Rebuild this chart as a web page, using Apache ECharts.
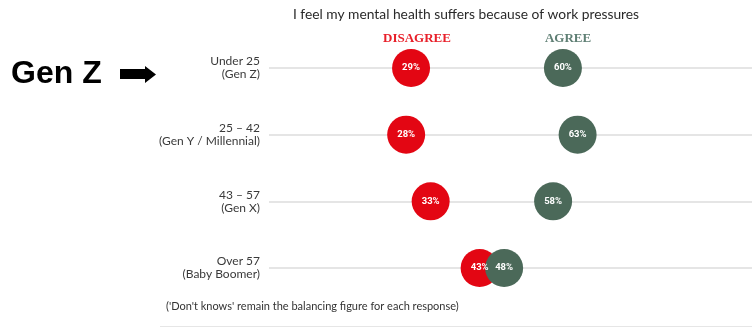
<!DOCTYPE html>
<html>
<head>
<meta charset="utf-8">
<script src="https://cdn.jsdelivr.net/npm/echarts@6/dist/echarts.min.js"></script>
<style>
  html, body { margin: 0; padding: 0; background: #fff; }
  #chart { width: 752px; height: 328px; }
</style>
</head>
<body>
<div id="chart"></div>
<script>
// Age groups, top to bottom
const ageGroups = [
  'Under 25\n(Gen Z)',
  '25 – 42\n(Gen Y / Millennial)',
  '43 – 57\n(Gen X)',
  'Over 57\n(Baby Boomer)'
];
// Share of respondents (%)
const disagree = [29, 28, 33, 43];
const agree = [60, 63, 58, 48];

const RED = '#e30613';
const GREEN = '#4b6959';

const chart = echarts.init(document.getElementById('chart'), null, { renderer: 'canvas' });

function bubbleSeries(name, values, color) {
  return {
    name: name,
    type: 'scatter',
    symbol: 'circle',
    symbolSize: 38,
    itemStyle: { color: color, opacity: 1 },
    label: {
      show: true,
      position: 'inside',
      formatter: p => p.value[0] + '%',
      color: '#fff',
      fontFamily: 'Roboto, sans-serif',
      fontSize: 9.5,
      fontWeight: 'bold'
    },
    emphasis: { disabled: true },
    data: values.map((v, i) => [v, i])
  };
}

chart.setOption({
  animation: false,
  grid: { left: 269, right: 0, top: 68, height: 200 },
  xAxis: {
    type: 'value',
    min: 0,
    max: 98.6,
    show: false
  },
  yAxis: {
    type: 'category',
    data: ageGroups,
    inverse: true,
    boundaryGap: false,
    axisLine: { show: false },
    axisTick: { show: false },
    axisLabel: {
      margin: 9,
      color: '#3a3a3a',
      fontFamily: 'Lato, "Open Sans", sans-serif',
      fontSize: 12,
      lineHeight: 13,
      align: 'right'
    },
    splitLine: { show: true, lineStyle: { color: '#dcdcdc', width: 1.5 } }
  },
  title: [
    {
      text: 'I feel my mental health suffers because of work pressures',
      left: 461, top: 3, textAlign: 'center',
      textStyle: { fontFamily: 'Lato, sans-serif', fontSize: 13.8, fontWeight: 'normal', color: '#2a2a2a' }
    },
    {
      text: 'DISAGREE',
      left: 412, top: 27, textAlign: 'center',
      textStyle: { fontFamily: '"Liberation Serif", serif', fontSize: 13, fontWeight: 'bold', color: '#e8202a' }
    },
    {
      text: 'AGREE',
      left: 563, top: 27, textAlign: 'center',
      textStyle: { fontFamily: '"Liberation Serif", serif', fontSize: 13, fontWeight: 'bold', color: '#5f7f74' }
    },
    {
      text: "('Don't knows' remain the balancing figure for each response)",
      left: 161, top: 296,
      textStyle: { fontFamily: 'Lato, sans-serif', fontSize: 11, fontWeight: 'normal', color: '#333' }
    }
  ],
  graphic: [
    {
      type: 'text',
      left: 11, top: 58,
      style: { text: 'Gen Z', font: 'bold 32px "Liberation Sans", Arial, sans-serif', fill: '#000' }
    },
    {
      type: 'polygon',
      shape: { points: [[120, 69], [145, 69], [145, 66], [156, 74.5], [145, 83], [145, 79], [120, 79]] },
      style: { fill: '#000' }
    },
    {
      type: 'line',
      shape: { x1: 160, y1: 326.5, x2: 752, y2: 326.5 },
      style: { stroke: '#e6e6e6', lineWidth: 1 }
    }
  ],
  series: [
    bubbleSeries('Disagree', disagree, RED),
    bubbleSeries('Agree', agree, GREEN)
  ]
});
</script>
</body>
</html>
